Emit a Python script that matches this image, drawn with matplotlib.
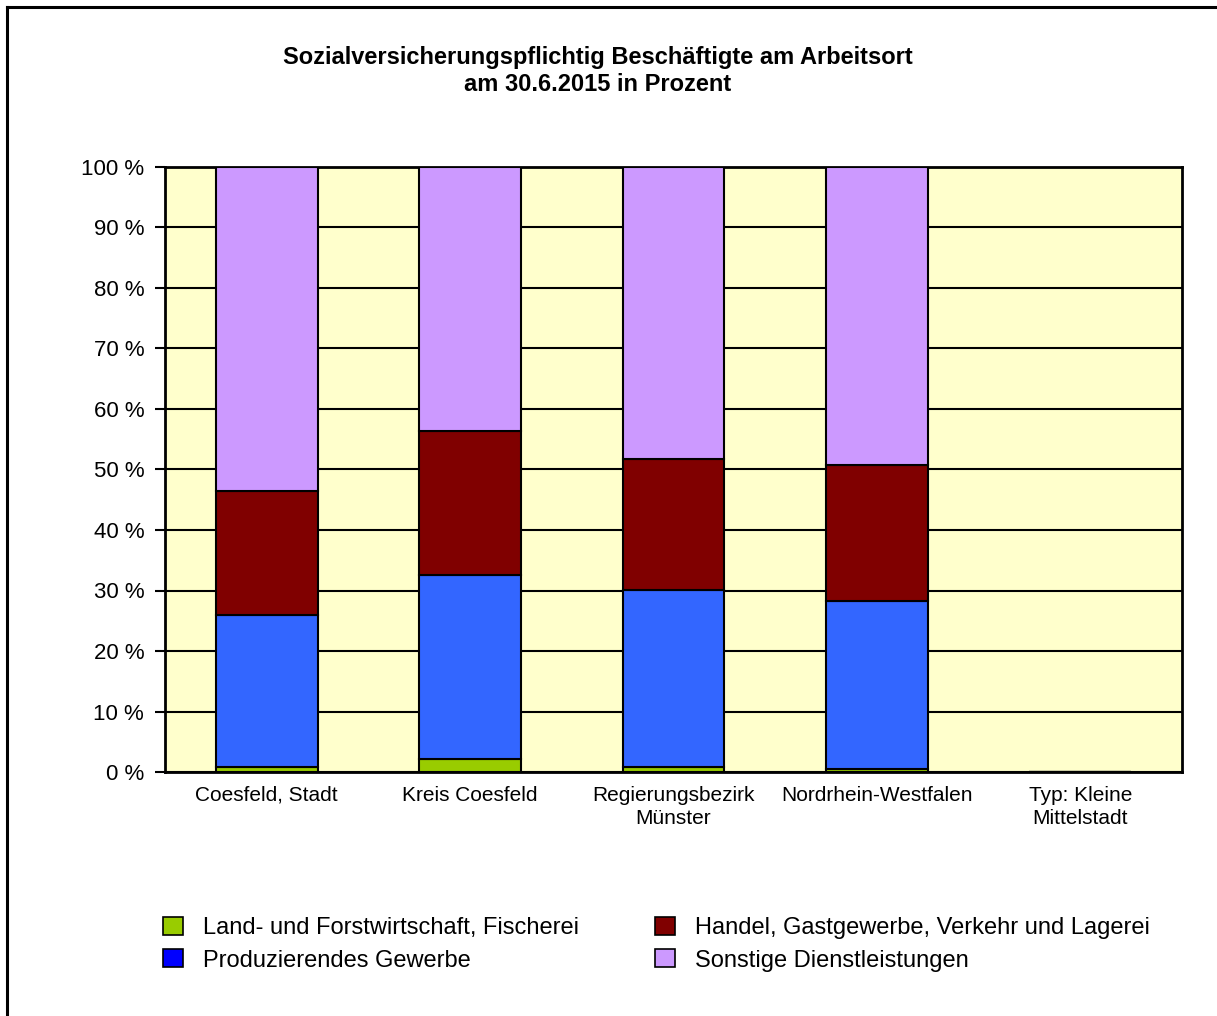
import numpy as np
import matplotlib.pyplot as plt
from matplotlib.patches import Patch
from matplotlib.lines import Line2D

plt.rcParams['font.family'] = ['Liberation Sans', 'DejaVu Sans']

# Beschäftigte nach Wirtschaftsbereichen, Anteile in %
regionen = ["Coesfeld, Stadt", "Kreis Coesfeld", "Regierungsbezirk\nMünster",
            "Nordrhein-Westfalen", "Typ: Kleine\nMittelstadt"]
land_forst = [0.8, 2.1, 0.8, 0.5, 0.0]
produzierend = [25.2, 30.5, 29.3, 27.8, 0.0]
handel = [20.4, 23.8, 21.6, 22.4, 0.0]
sonstige = [53.6, 43.6, 48.3, 49.3, 0.0]

reihen = ["Land- und Forstwirtschaft, Fischerei", "Produzierendes Gewerbe",
          "Handel, Gastgewerbe, Verkehr und Lagerei", "Sonstige Dienstleistungen"]
bar_farben = ["#99cc00", "#3366ff", "#800000", "#cc99ff"]
legende_farben = ["#99cc00", "#0000ff", "#800000", "#cc99ff"]

fig = plt.figure(figsize=(12.17, 10.16), dpi=100)
ax = fig.add_axes([165/1217, 1 - 772/1016, (1182-165)/1217, 605/1016])
ax.set_facecolor("#ffffcc")

x = np.arange(len(regionen))
unten = np.zeros(len(regionen))
for werte, farbe in zip([land_forst, produzierend, handel, sonstige], bar_farben):
    werte = np.array(werte)
    ax.bar(x, werte, width=0.5, bottom=unten, color=farbe,
           edgecolor="black", linewidth=1.5, zorder=3)
    unten += werte

ax.set_xlim(-0.5, len(regionen) - 0.5)
ax.set_ylim(0, 100)
ax.set_yticks(np.arange(0, 101, 10))
ax.set_yticklabels([f"{v} %" for v in range(0, 101, 10)])
ax.set_xticks(x)
ax.set_xticklabels(regionen, linespacing=1.25)
ax.yaxis.grid(True, color="black", linewidth=1.5, zorder=1)
ax.set_axisbelow(True)
ax.tick_params(axis="y", length=7, width=1.5, pad=8, labelsize=16)
ax.tick_params(axis="x", length=0, pad=10, labelsize=15)
for s in ax.spines.values():
    s.set_linewidth(2)

fig.text(0.491, 1 - 71/1016,
         "Sozialversicherungspflichtig Beschäftigte am Arbeitsort\nam 30.6.2015 in Prozent",
         ha="center", va="center", fontsize=17, fontweight="bold", linespacing=1.2)

handles = [Patch(facecolor=c, edgecolor="black", linewidth=1.2) for c in legende_farben]
fig.legend(handles, reihen, ncol=2, loc="upper left",
           bbox_to_anchor=(142/1217, 1 - 896/1016), frameon=False, fontsize=17,
           handlelength=0.85, handleheight=0.8, handletextpad=0.85,
           columnspacing=3.2, labelspacing=0.42)

# Rahmen links und oben
fig.add_artist(Line2D([7/1217, 7/1217], [0, 1 - 7/1016], color="black", linewidth=2.2,
                      transform=fig.transFigure))
fig.add_artist(Line2D([7/1217, 1], [1 - 7/1016, 1 - 7/1016], color="black", linewidth=2.2,
                      transform=fig.transFigure))

fig.savefig("out.png", dpi=100)
